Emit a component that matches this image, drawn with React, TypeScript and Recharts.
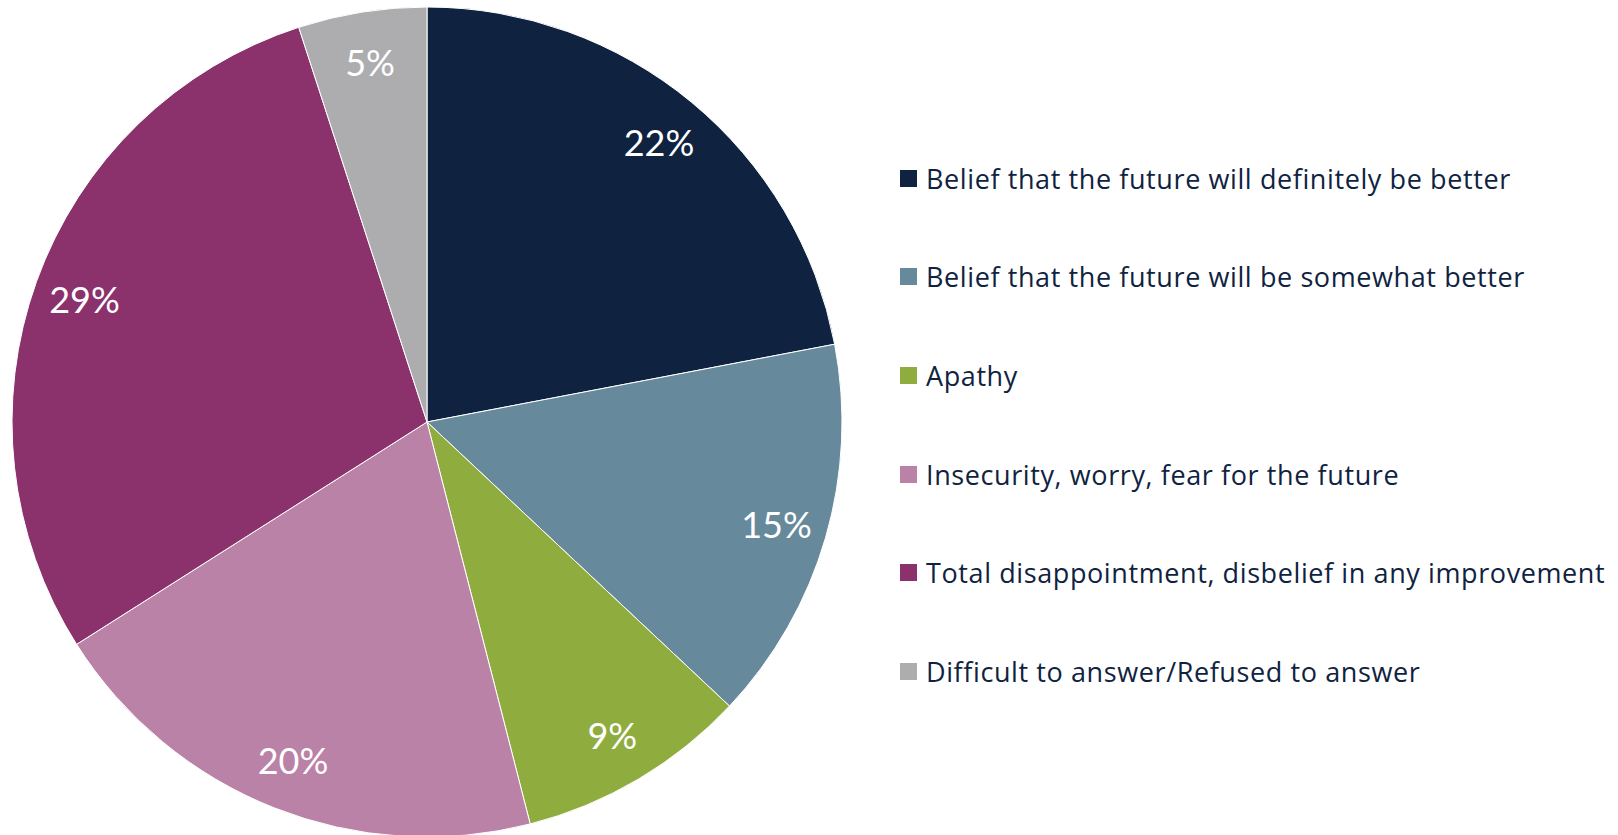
import { PieChart, Pie, Cell, Legend } from "recharts";

const categories = [
  "Belief that the future will definitely be better",
  "Belief that the future will be somewhat better",
  "Apathy",
  "Insecurity, worry, fear for the future",
  "Total disappointment, disbelief in any improvement",
  "Difficult to answer/Refused to answer",
];

const values = [22, 15, 9, 20, 29, 5];

const COLORS = ["#0f2341", "#67899c", "#8fad3f", "#bb82a8", "#8b316c", "#adadaf"];

const data = categories.map((name, i) => ({ name, value: values[i] }));

const FONT = "Lato, 'Open Sans', sans-serif";
const RAD = Math.PI / 180;

// percentage label inside each slice
const renderLabel = (props: any) => {
  const { cx, cy, midAngle, value } = props;
  const r = 364;
  const x = cx + r * Math.cos(-midAngle * RAD);
  const y = cy + r * Math.sin(-midAngle * RAD);
  return (
    <text
      x={x}
      y={y}
      fill="#ffffff"
      fontSize={36}
      fontFamily={FONT}
      textAnchor="middle"
      dominantBaseline="central"
    >
      {value}%
    </text>
  );
};

const renderLegend = (props: any) => {
  // keep the original category order
  const payload = [...props.payload].sort(
    (a: any, b: any) => categories.indexOf(a.value) - categories.indexOf(b.value)
  );
  return (
    <div style={{ fontFamily: "'Open Sans', sans-serif" }}>
      {payload.map((entry: any, i: number) => (
        <div
          key={i}
          style={{
            display: "flex",
            alignItems: "center",
            height: 98.6,
            fontSize: 27,
            letterSpacing: 0.6,
            color: "#0f2341",
            whiteSpace: "nowrap",
          }}
        >
          <span
            style={{
              width: 17,
              height: 17,
              background: entry.color,
              marginRight: 9,
              display: "inline-block",
              flexShrink: 0,
            }}
          />
          <span>{entry.value}</span>
        </div>
      ))}
    </div>
  );
};

export default function App() {
  return (
    <div style={{ position: "absolute", left: 0, top: 0, background: "#fff" }}>
      <PieChart width={1618} height={835} margin={{ top: 0, right: 0, bottom: 0, left: 0 }}>
        <Pie
          data={data}
          dataKey="value"
          nameKey="name"
          cx={427}
          cy={422}
          outerRadius={415}
          startAngle={90}
          endAngle={-270}
          stroke="#ffffff"
          strokeWidth={1}
          label={renderLabel}
          labelLine={false}
          isAnimationActive={false}
        >
          {data.map((_, index) => (
            <Cell key={index} fill={COLORS[index]} />
          ))}
        </Pie>
        <Legend
          content={renderLegend}
          layout="vertical"
          wrapperStyle={{ position: "absolute", left: 900, top: 129, width: 718 }}
        />
      </PieChart>
    </div>
  );
}
